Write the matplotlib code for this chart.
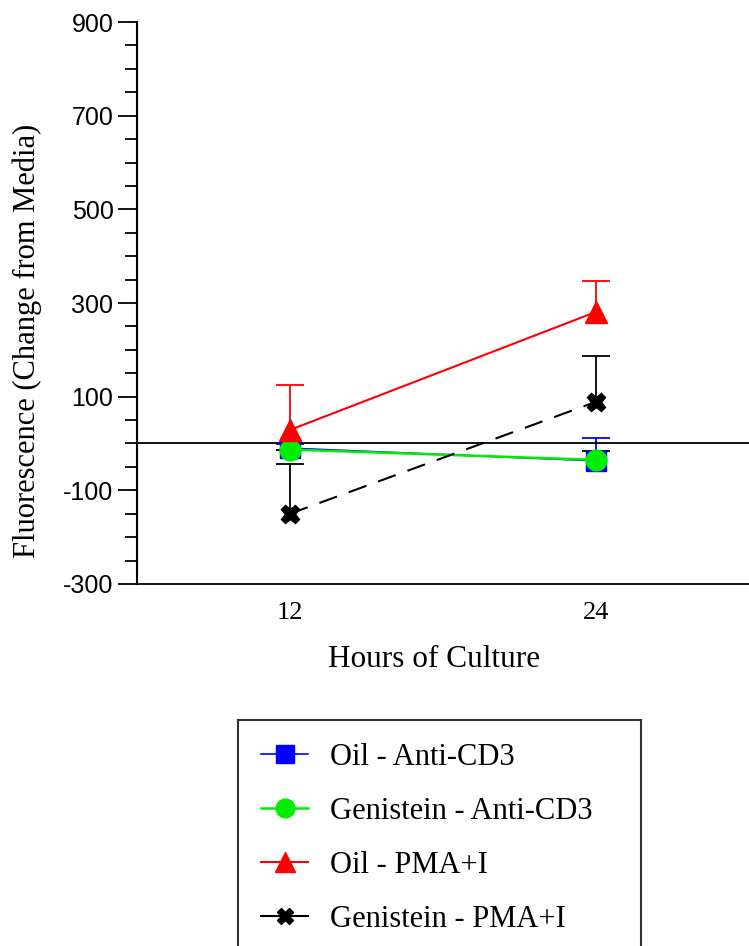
import matplotlib
matplotlib.use("Agg")
import matplotlib.pyplot as plt
import matplotlib.ticker as ticker

plt.rcParams["axes.unicode_minus"] = False

# Data.
hours = [12, 24]
series_names = ["Oil - Anti-CD3", "Genistein - Anti-CD3", "Oil - PMA+I", "Genistein - PMA+I"]
oil_cd3 = [-10, -37]
oil_cd3_err = [8, 49]
gen_cd3 = [-13, -35]
gen_cd3_err = [0, 19]
oil_pma = [29, 281]
oil_pma_err = [96, 66]
gen_pma = [-150, 89]
gen_pma_err = [106, 98]
y_ticks = [-300, -100, 100, 300, 500, 700, 900]

serif = "Liberation Serif"
sans = "Liberation Sans"

fig = plt.figure(figsize=(7.49, 9.46), dpi=100)
ax = fig.add_axes([0.183, 0.3827, 0.817, 0.594])


def upper_errorbar(x, y, err, color):
    # only the upper half of the error bar is drawn, with its cap
    _, caps, _ = ax.errorbar(x, y, yerr=[[0] * len(err), err], fmt="none", ecolor=color,
                             elinewidth=1.3, capsize=10, capthick=1.3)
    caps[0].set_visible(False)


upper_errorbar(hours, oil_cd3, oil_cd3_err, "blue")
upper_errorbar(hours, gen_cd3, gen_cd3_err, "black")
upper_errorbar(hours, oil_pma, oil_pma_err, "red")
upper_errorbar(hours, gen_pma, gen_pma_err, "black")

# Zero reference line.
ax.axhline(0, color="black", lw=1.3, zorder=2)

# Series lines with markers.
ax.plot(hours, oil_cd3, color="blue", lw=1.2, marker="s", ms=14, label=series_names[0], zorder=3)
ax.plot(hours, gen_cd3, color="#00ee00", lw=1.8, marker="o", ms=15, label=series_names[1], zorder=4)
ax.plot(hours, oil_pma, color="red", lw=1.5, marker="^", ms=16, label=series_names[2], zorder=4)
ax.plot(hours, gen_pma, color="black", lw=1.5, ls=(0, (9, 6)), marker="X", ms=13, mec="black", mew=1,
        label=series_names[3], zorder=4)

ax.set_xlim(6, 30)
ax.set_ylim(-300, 900)
ax.set_xticks(hours)
ax.set_xticklabels([str(h) for h in hours], family=serif, fontsize=19)
ax.tick_params(axis="x", length=0, pad=13)

ax.set_yticks(y_ticks)
ax.yaxis.set_minor_locator(ticker.MultipleLocator(50))
ax.tick_params(axis="y", which="major", length=13.5, width=1.3, labelsize=18, pad=3.5)
ax.tick_params(axis="y", which="minor", length=8.5, width=1.3)
for lbl in ax.get_yticklabels():
    lbl.set_family(sans)

ax.spines["top"].set_visible(False)
ax.spines["right"].set_visible(False)
ax.spines["left"].set_linewidth(1.5)
ax.spines["bottom"].set_linewidth(1.3)

ax.set_xlabel("Hours of Culture", family=serif, fontsize=22.5)
ax.xaxis.set_label_coords(0.485, -0.108)
ax.set_ylabel("Fluorescence (Change from Media)", family=serif, fontsize=22)
ax.yaxis.set_label_coords(-0.155, 0.432)

handles, labels = ax.get_legend_handles_labels()
leg = fig.legend(handles, labels, loc="upper left",
                 bbox_to_anchor=(238 / 749, 0, 403 / 749, 1 - 720 / 946), mode="expand",
                 prop={"family": serif, "size": 22}, frameon=True, fancybox=False, edgecolor="black",
                 handlelength=1.55, handletextpad=0.7, labelspacing=0.82, borderpad=0.75, borderaxespad=0,
                 numpoints=1, markerscale=0.9)
leg.get_frame().set_linewidth(1.5)
for h in leg.legend_handles:
    h.set_linestyle("-")

fig.savefig("out.png", dpi=100)
